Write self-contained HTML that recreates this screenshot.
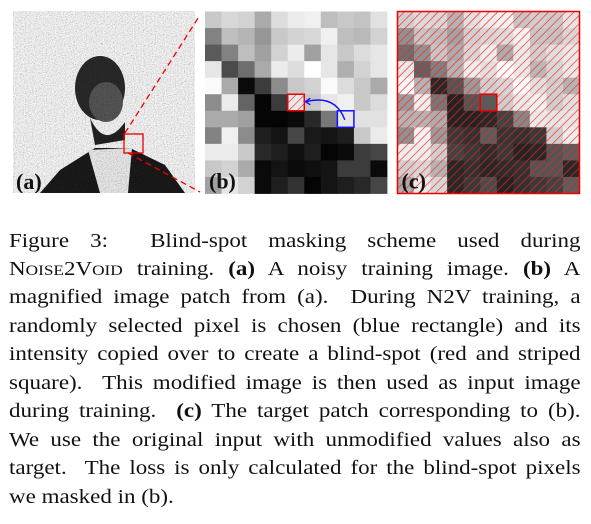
<!DOCTYPE html>
<html><head><meta charset="utf-8">
<style>
html,body{margin:0;padding:0;background:#fff;}
body{width:591px;height:524px;position:relative;overflow:hidden;font-family:"Liberation Serif",serif;}
#fig{position:absolute;left:0;top:0;}
.cap{position:absolute;left:9px;width:497px;font-size:20px;line-height:20px;color:#111;text-align:justify;text-align-last:justify;white-space:nowrap;transform:scaleX(1.15);transform-origin:0 0;}
.cap.last{text-align-last:left;}
.sc{font-size:15px;}
</style></head><body>
<svg id="fig" width="591" height="205">
<defs>
<filter id="noise" x="0" y="0" width="100%" height="100%">
<feTurbulence type="fractalNoise" baseFrequency="0.9" numOctaves="1" seed="3" result="t"/>
<feColorMatrix type="matrix" values="0.33 0.33 0.33 0 0  0.33 0.33 0.33 0 0  0.33 0.33 0.33 0 0  0 0 0 0 1" in="t" result="g"/>
<feComponentTransfer in="g" result="g2"><feFuncR type="linear" slope="1.8" intercept="0.0"/><feFuncG type="linear" slope="1.8" intercept="0.0"/><feFuncB type="linear" slope="1.8" intercept="0.0"/></feComponentTransfer>
<feBlend in="SourceGraphic" in2="g2" mode="multiply"/>
</filter>
<pattern id="hatch" width="6" height="6" patternUnits="userSpaceOnUse" patternTransform="rotate(45)">
<rect x="0" y="0" width="6" height="6" fill="rgba(255,255,255,0.12)"/>
<line x1="0" y1="0" x2="0" y2="6" stroke="#ff2020" stroke-width="1.3"/>
</pattern>
<clipPath id="clipA"><rect x="13" y="11" width="182" height="182"/></clipPath>
</defs>
<g id="panelA" clip-path="url(#clipA)">
<g filter="url(#noise)">
<rect x="13" y="11" width="182" height="182" fill="#f4f4f4"/>
<ellipse cx="100" cy="88" rx="25" ry="32" fill="#2a2a2a"/>
<ellipse cx="106" cy="102" rx="17" ry="20" fill="#555"/>
<path d="M90 118 Q105 150 125 122 L125 140 L95 145 Z" fill="#222"/>
<path d="M40 193 L60 170 L95 148 L130 148 L165 165 L185 193 Z" fill="#1a1a1a"/>
<path d="M88 150 L100 193 L128 193 L132 148 Z" fill="#e8e8e8"/>
</g>
<text x="16" y="189" font-family="Liberation Serif" font-weight="bold" font-size="22" fill="#111">(a)</text>
</g>
<rect x="124" y="134" width="19" height="19" fill="none" stroke="#e00" stroke-width="1.3"/>
<line x1="125" y1="133" x2="200" y2="15" stroke="#e00" stroke-width="1.3" stroke-dasharray="6,4"/>
<line x1="128" y1="153" x2="200" y2="192" stroke="#e00" stroke-width="1.3" stroke-dasharray="6,4"/>
<g id="panelB"></g>
<g id="panelC"></g>
</svg>

<div class="cap" style="top:231px">Figure 3: &nbsp;Blind-spot masking scheme used during</div>
<div class="cap" style="top:259px">N<span class="sc">OISE</span>2V<span class="sc">OID</span> training. <b>(a)</b> A noisy training image. <b>(b)</b> A</div>
<div class="cap" style="top:287px">magnified image patch from (a). &nbsp;During N2V training, a</div>
<div class="cap" style="top:316px">randomly selected pixel is chosen (blue rectangle) and its</div>
<div class="cap" style="top:344px">intensity copied over to create a blind-spot (red and striped</div>
<div class="cap" style="top:373px">square). &nbsp;This modified image is then used as input image</div>
<div class="cap" style="top:401px">during training. &nbsp;<b>(c)</b> The target patch corresponding to (b).</div>
<div class="cap" style="top:430px">We use the original input with unmodified values also as</div>
<div class="cap" style="top:458px">target. &nbsp;The loss is only calculated for the blind-spot pixels</div>
<div class="cap last" style="top:487px">we masked in (b).</div>

<script>
const patchValues = [
[200,215,210,170,220,235,240,190,200,195,225],
[130,190,180,150,200,210,215,240,190,185,210],
[90,130,190,160,210,235,160,230,200,220,230],
[230,75,110,170,235,220,255,230,175,210,230],
[250,170,10,60,140,200,210,250,220,200,170],
[140,235,100,5,60,90,200,230,240,200,220],
[170,170,160,5,5,10,40,120,230,225,225],
[130,240,140,30,20,70,25,20,30,200,235],
[235,235,200,40,30,15,30,5,10,60,70],
[200,210,170,10,20,10,15,20,60,60,10],
[160,230,210,10,30,50,5,20,30,40,70]
];
const blindSpot = [5,5];
const sourcePixel = [6,8];
const NS='http://www.w3.org/2000/svg';
const cell = 182/11;
function mk(tag, attrs, parent){const e=document.createElementNS(NS,tag);for(const k in attrs)e.setAttribute(k,attrs[k]);parent.appendChild(e);return e;}
function drawPanel(g, x0, y0, isTarget){
  patchValues.forEach((row,r)=>row.forEach((v,c)=>{
    let val=v;
    const isBlind = r===blindSpot[0]&&c===blindSpot[1];
    if(isBlind && !isTarget) val = patchValues[sourcePixel[0]][sourcePixel[1]];
    const rc=mk('rect',{x:x0+c*cell,y:y0+r*cell,width:cell+0.4,height:cell+0.4,fill:`rgb(${val},${val},${val})`},g);
    
    
  }));
  if(isTarget){
    const h=mk('rect',{x:x0,y:y0,width:182,height:182,fill:'url(#hatch)'},g);
    
    
    const bc=mk('rect',{x:x0+blindSpot[1]*cell,y:y0+blindSpot[0]*cell,width:cell,height:cell,fill:'rgb(90,90,90)',stroke:'#e00','stroke-width':1.6},g);
    
    
    const fr=mk('rect',{x:x0,y:y0,width:182,height:182,fill:'none',stroke:'#e00','stroke-width':1.5},g);
    
    
  } else {
    const bx=x0+blindSpot[1]*cell, by=y0+blindSpot[0]*cell;
    const bh=mk('rect',{x:bx,y:by,width:cell,height:cell,fill:'url(#hatch)',stroke:'#e00','stroke-width':1.5},g);
    
    
    const sx=x0+sourcePixel[1]*cell, sy=y0+sourcePixel[0]*cell;
    const sb=mk('rect',{x:sx,y:sy,width:cell,height:cell,fill:'none',stroke:'#11f','stroke-width':1.5},g);
    
    
    const ar=mk('path',{d:`M${sx+cell*0.45} ${sy+cell*0.55} Q${sx-2} ${by} ${bx+cell+2} ${by+cell*0.45}`,fill:'none',stroke:'#11f','stroke-width':1.4},g);
    
    
    const ah=mk('path',{d:`M${bx+cell+1} ${by+cell*0.45} l5 -3.5 M${bx+cell+1} ${by+cell*0.45} l5 3`,fill:'none',stroke:'#11f','stroke-width':1.4},g);
    
    
  }
  const t=mk('text',{x:x0+4,y:y0+177,'font-family':'Liberation Serif','font-weight':'bold','font-size':22,fill:'#111'},g);
  t.textContent=isTarget?'(c)':'(b)';
  
  
}
drawPanel(document.getElementById('panelB'),205,11.5,false);
drawPanel(document.getElementById('panelC'),397.5,11.5,true);
</script>
</body></html>
